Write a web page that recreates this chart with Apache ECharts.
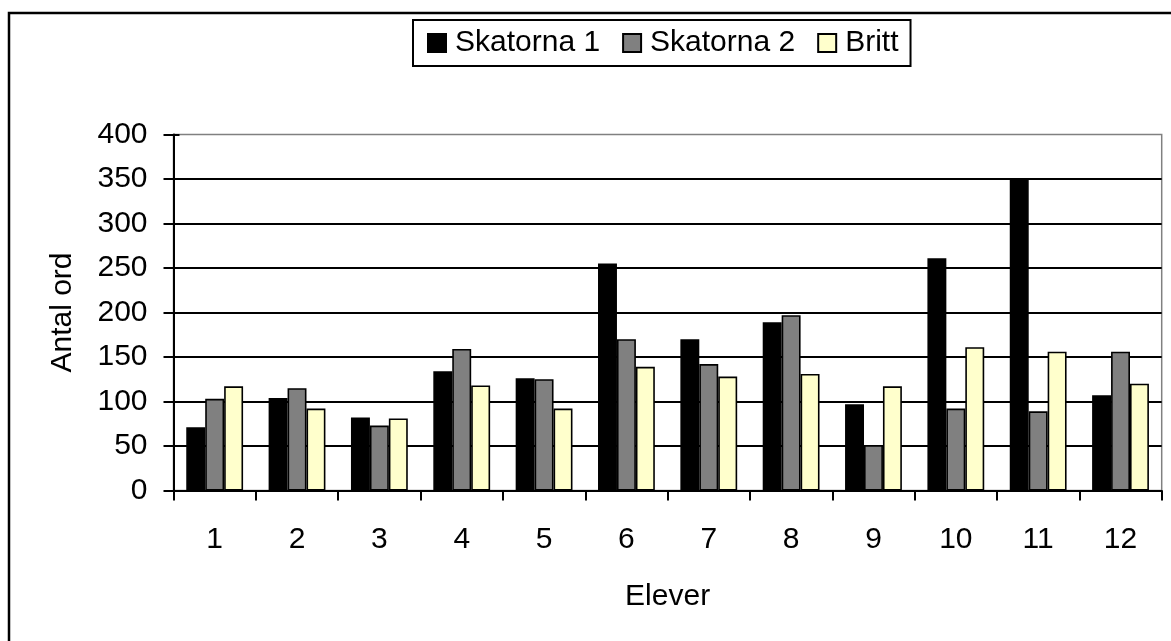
<!DOCTYPE html>
<html>
<head>
<meta charset="utf-8">
<script src="https://cdn.jsdelivr.net/npm/echarts@6/dist/echarts.min.js"></script>
<style>
  html, body { margin: 0; padding: 0; background: #fff; }
  #chart { width: 1171px; height: 641px; }
</style>
</head>
<body>
<div id="chart"></div>
<script>
// Number of words per pupil, three text sources
const elever = ['1', '2', '3', '4', '5', '6', '7', '8', '9', '10', '11', '12'];
const skatorna1 = [71, 104, 82, 134, 126, 255, 170, 189, 97, 261, 351, 107];
const skatorna2 = [103, 115, 73, 159, 125, 170, 142, 197, 51, 92, 89, 156];
const britt = [117, 92, 81, 118, 92, 139, 128, 131, 117, 161, 156, 120];
const yTicks = { min: 0, max: 400, interval: 50 };

const FONT = 'Liberation Sans, Arial, sans-serif';
const FS = 30;

const chart = echarts.init(document.getElementById('chart'), null, { renderer: 'canvas' });

function barSeries(name, data, color) {
  return {
    name: name,
    type: 'bar',
    data: data,
    barGap: '0%',
    barCategoryGap: '31%',
    itemStyle: { color: color, borderColor: '#000', borderWidth: 1.6 },
    emphasis: { disabled: true },
    animation: false
  };
}

chart.setOption({
  animation: false,
  backgroundColor: '#fff',
  textStyle: { fontFamily: FONT },
  graphic: [{
    type: 'rect',
    shape: { x: 9, y: 13, width: 1300, height: 800 },
    style: { fill: 'none', stroke: '#000', lineWidth: 2.5 },
    silent: true,
    z: 100
  }],
  legend: {
    left: 413,
    top: 20,
    padding: [8, 12, 8, 14],
    itemGap: 22,
    itemWidth: 18,
    itemHeight: 18,
    borderColor: '#000',
    borderWidth: 2,
    icon: 'rect',
    textStyle: { fontSize: FS, color: '#000', fontFamily: FONT, padding: [0, 0, 0, 4] },
    data: ['Skatorna 1', 'Skatorna 2', 'Britt']
  },
  grid: {
    left: 173.5,
    right: 9.3,
    top: 134.5,
    bottom: 150.5,
    show: true,
    borderColor: '#808080',
    borderWidth: 1.5,
    backgroundColor: 'transparent'
  },
  xAxis: {
    type: 'category',
    data: elever,
    name: 'Elever',
    nameLocation: 'middle',
    nameGap: 91,
    nameTextStyle: { fontSize: FS, color: '#000', fontFamily: FONT },
    axisLine: { lineStyle: { color: '#000', width: 2 } },
    axisTick: { show: true, length: 10, lineStyle: { color: '#000', width: 2 } },
    axisLabel: { fontSize: FS, color: '#000', margin: 34, fontFamily: FONT },
    splitLine: { show: false }
  },
  yAxis: [{
    type: 'value',
    min: yTicks.min,
    max: yTicks.max,
    interval: yTicks.interval,
    name: 'Antal ord',
    nameLocation: 'middle',
    nameGap: 96,
    nameTextStyle: { fontSize: FS, color: '#000', fontFamily: FONT },
    axisLine: { show: true, lineStyle: { color: '#000', width: 2 } },
    axisTick: { show: true, length: 10, lineStyle: { color: '#000', width: 2 } },
    axisLabel: { fontSize: FS, color: '#000', margin: 26, fontFamily: FONT },
    splitLine: { show: true, showMaxLine: false, lineStyle: { color: '#000', width: 2 } }
  }, {
    // inner half of the crossing tick marks
    type: 'value',
    position: 'left',
    min: yTicks.min,
    max: yTicks.max,
    interval: yTicks.interval,
    axisLine: { show: false },
    axisTick: { show: true, inside: true, length: 6, lineStyle: { color: '#000', width: 2 } },
    axisLabel: { show: false },
    splitLine: { show: false }
  }],
  series: [
    barSeries('Skatorna 1', skatorna1, '#000000'),
    barSeries('Skatorna 2', skatorna2, '#808080'),
    barSeries('Britt', britt, '#FFFFCC')
  ]
});
</script>
</body>
</html>
